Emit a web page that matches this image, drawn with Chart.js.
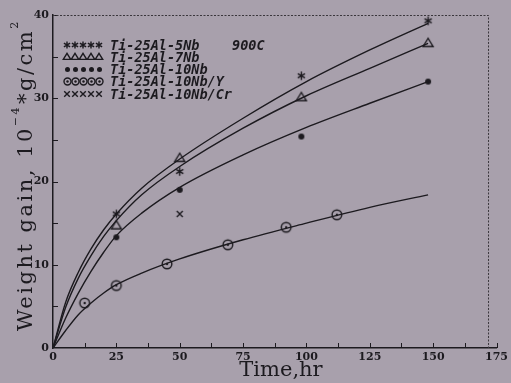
<!DOCTYPE html>
<html><head><meta charset="utf-8">
<script src="https://cdn.jsdelivr.net/npm/chart.js@4.4.1/dist/chart.umd.min.js"></script>
<style>html,body{margin:0;padding:0;background:#a8a0ac;}#wrap{width:511px;height:383px;position:relative;}</style>
</head><body><div id="wrap"><canvas id="c" width="511" height="383"></canvas></div>
<script>
// ---- data ----
const seriesNames = ['Ti-25Al-5Nb', 'Ti-25Al-7Nb', 'Ti-25Al-10Nb', 'Ti-25Al-10Nb/Y', 'Ti-25Al-10Nb/Cr'];
const time5Nb = [25, 50, 98, 148];
const gain5Nb = [16.1, 21.2, 32.7, 39.3];
const time7Nb = [25, 50, 98, 148];
const gain7Nb = [14.7, 22.8, 30.1, 36.6];
const time10Nb = [25, 50, 98, 148];
const gain10Nb = [13.3, 19.0, 25.4, 32.0];
const time10NbY = [12.5, 25, 45, 69, 92, 112];
const gain10NbY = [5.4, 7.5, 10.1, 12.4, 14.5, 16.0];
const time10NbCr = [50];
const gain10NbCr = [16.1];
// fitted curves
const curveTime = [0, 5, 10, 15, 20, 25, 35, 50, 75, 100, 125, 148];
const curve5Nb = [0, 5.5, 9.1, 11.9, 14.2, 16.1, 19.2, 22.7, 27.6, 32.0, 35.8, 39.0];
const curve7Nb = [0, 4.9, 8.4, 11.1, 13.4, 15.3, 18.4, 21.8, 26.4, 30.3, 33.6, 36.6];
const curve10Nb = [0, 3.6, 6.6, 9.2, 11.5, 13.5, 16.2, 19.3, 23.2, 26.5, 29.4, 32.0];
const curve10NbY = [0, 2.1, 4.0, 5.4, 6.6, 7.6, 9.0, 10.7, 13.0, 15.0, 16.9, 18.4];
const xTickValues = [0, 25, 50, 75, 100, 125, 150, 175];
const yTickValues = [0, 10, 20, 30, 40];
const tempLabel = '900C';
const xTitle = 'Time,hr';

// ---- styles ----
const BG = '#a8a0ac';
const INK = '#1c1a1f';

function makeMarker(kind, size) {
  const S = Math.ceil(size * 2 + 4);
  const cv = document.createElement('canvas');
  cv.width = S; cv.height = S;
  const g = cv.getContext('2d');
  const c = S / 2, r = size;
  g.strokeStyle = INK; g.fillStyle = INK; g.lineWidth = 1.4;
  g.beginPath();
  if (kind === 'ast') {
    for (let k = 0; k < 3; k++) {
      const a = Math.PI / 2 + k * Math.PI / 3;
      g.moveTo(c + r * Math.cos(a), c + r * Math.sin(a));
      g.lineTo(c - r * Math.cos(a), c - r * Math.sin(a));
    }
    g.stroke();
  } else if (kind === 'tri') {
    g.moveTo(c, c - r);
    g.lineTo(c + r, c + r * 0.65);
    g.lineTo(c - r, c + r * 0.65);
    g.closePath();
    g.stroke();
  } else if (kind === 'dot') {
    g.arc(c, c, r, 0, Math.PI * 2);
    g.fill();
  } else if (kind === 'odot') {
    g.arc(c, c, r, 0, Math.PI * 2);
    g.stroke();
    g.beginPath();
    g.arc(c, c, 1.2, 0, Math.PI * 2);
    g.fill();
  } else if (kind === 'x') {
    g.moveTo(c - r, c - r); g.lineTo(c + r, c + r);
    g.moveTo(c + r, c - r); g.lineTo(c - r, c + r);
    g.stroke();
  }
  return cv;
}
const markerKinds = ['ast', 'tri', 'dot', 'odot', 'x'];
const plotSizes = [4.2, 5, 3, 4.8, 3];
const legendSizes = [3.6, 3.7, 2.5, 3.5, 2.8];
const plotMarkers = markerKinds.map((k, i) => makeMarker(k, plotSizes[i]));
const legendMarkers = markerKinds.map((k, i) => makeMarker(k, legendSizes[i]));

const toXY = (xs, ys) => xs.map((x, i) => ({ x: x, y: ys[i] }));

const curveSet = (name, ys) => ({
  label: name + ' fit', data: toXY(curveTime, ys), borderColor: INK, borderWidth: 1.4,
  pointRadius: 0, fill: false, cubicInterpolationMode: 'monotone', showLine: true
});
const pointSet = (name, xs, ys, idx) => ({
  label: name, data: toXY(xs, ys), showLine: false, pointStyle: plotMarkers[idx],
  pointRadius: 4, borderColor: INK, backgroundColor: INK
});

const datasets = [
  curveSet(seriesNames[0], curve5Nb),
  curveSet(seriesNames[1], curve7Nb),
  curveSet(seriesNames[2], curve10Nb),
  curveSet(seriesNames[3], curve10NbY),
  pointSet(seriesNames[0], time5Nb, gain5Nb, 0),
  pointSet(seriesNames[1], time7Nb, gain7Nb, 1),
  pointSet(seriesNames[2], time10Nb, gain10Nb, 2),
  pointSet(seriesNames[3], time10NbY, gain10NbY, 3),
  pointSet(seriesNames[4], time10NbCr, gain10NbCr, 4)
];

const decor = {
  id: 'decor',
  beforeDraw(chart) {
    const ctx = chart.ctx;
    ctx.save();
    ctx.fillStyle = BG;
    ctx.fillRect(0, 0, chart.width, chart.height);
    ctx.restore();
  },
  afterDraw(chart) {
    const ctx = chart.ctx, a = chart.chartArea;
    const xs = chart.scales.x, ys = chart.scales.y;
    ctx.save();
    ctx.strokeStyle = INK; ctx.lineWidth = 1;
    // inward minor ticks
    ctx.beginPath();
    for (let v = 12.5; v <= 175; v += 12.5) {
      const px = Math.round(xs.getPixelForValue(v)) + 0.5;
      ctx.moveTo(px, a.bottom); ctx.lineTo(px, a.bottom - 5);
    }
    for (let v = 5; v <= 40; v += 5) {
      const py = Math.round(ys.getPixelForValue(v)) + 0.5;
      ctx.moveTo(a.left, py); ctx.lineTo(a.left + 5, py);
    }
    ctx.stroke();
    // dotted top / right frame
    ctx.setLineDash([2, 1.5]);
    ctx.strokeStyle = '#3a363c';
    ctx.beginPath();
    const fr = a.right - 8;
    ctx.moveTo(a.left, a.top + 0.5); ctx.lineTo(fr, a.top + 0.5);
    ctx.lineTo(fr, a.bottom);
    ctx.stroke();
    ctx.setLineDash([]);
    // x title
    ctx.fillStyle = INK;
    ctx.font = '21px "DejaVu Serif"';
    ctx.textAlign = 'center'; ctx.textBaseline = 'alphabetic';
    ctx.fillText(xTitle, 281, 376);
    // y title (rotated)
    ctx.save();
    ctx.translate(32, 331);
    ctx.rotate(-Math.PI / 2);
    ctx.textAlign = 'left';
    ctx.letterSpacing = '2.5px';
    let x = 0;
    const part = (t, font, dy) => { ctx.font = font; ctx.fillText(t, x, dy); x += ctx.measureText(t).width; };
    part('Weight gain, 10', '21px "DejaVu Serif"', 0);
    part('\u22124', '11px "DejaVu Serif"', -13);
    x += 1;
    part('*g/cm', '21px "DejaVu Serif"', 0);
    part('2', '11px "DejaVu Serif"', -14);
    ctx.restore();
    // legend
    ctx.font = 'bold oblique 13.5px "DejaVu Sans Mono"';
    ctx.textAlign = 'left'; ctx.textBaseline = 'middle';
    for (let i = 0; i < seriesNames.length; i++) {
      const yy = 45 + i * 12.3;
      const m = legendMarkers[i];
      for (let k = 0; k < 5; k++) {
        const cx = 67 + k * 8;
        ctx.drawImage(m, Math.round(cx - m.width / 2), Math.round(yy - m.height / 2));
      }
      ctx.fillText(seriesNames[i], 110, yy + 1);
    }
    ctx.fillText(tempLabel, 232, 46);
    ctx.restore();
  }
};

const tickFont = { family: '"DejaVu Serif"', size: 11, weight: 'bold' };

new Chart(document.getElementById('c'), {
  type: 'scatter',
  data: { datasets: datasets },
  options: {
    responsive: false, animation: false, devicePixelRatio: 1,
    layout: { padding: { left: 0, top: 15, right: 14, bottom: 0 } },
    plugins: { legend: { display: false }, tooltip: { enabled: false } },
    scales: {
      x: {
        type: 'linear', min: 0, max: 175,
        afterBuildTicks: s => { s.ticks = xTickValues.map(v => ({ value: v })); },
        afterFit: s => { s.height = 35; },
        grid: { display: false, drawTicks: false },
        border: { display: true, color: INK, width: 1.5 },
        ticks: { font: tickFont, color: INK, padding: 3, maxRotation: 0, autoSkip: false }
      },
      y: {
        type: 'linear', min: 0, max: 40,
        afterBuildTicks: s => { s.ticks = yTickValues.map(v => ({ value: v })); },
        afterFit: s => { s.width = 53; },
        grid: { display: false, drawTicks: false },
        border: { display: true, color: INK, width: 1.5 },
        ticks: { font: tickFont, color: INK, padding: 4, autoSkip: false }
      }
    }
  },
  plugins: [decor]
});
</script></body></html>
